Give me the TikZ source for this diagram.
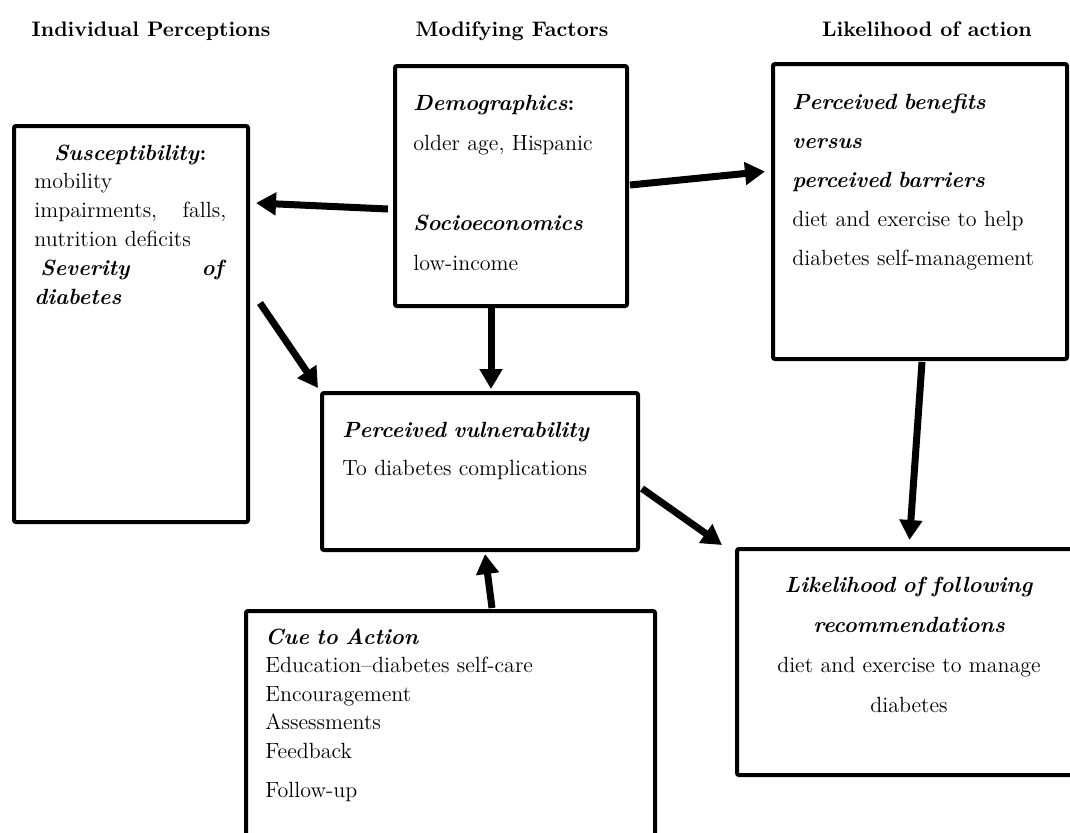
\documentclass[tikz,border=0pt]{standalone}
\usetikzlibrary{arrows.meta}
\newcommand{\kw}[1]{\textbf{\textit{#1}}}
\begin{document}
\begin{tikzpicture}
  [x=0.5pt,y=-0.5pt,
   box/.style={draw,line width=2pt,rounded corners=1pt,inner sep=0pt,anchor=north west},
   txt/.style={inner sep=0pt,anchor=base west,align=left},
   head/.style={inner sep=0pt,anchor=base,font=\fontsize{10.5}{12}\selectfont\bfseries},
   arr/.style={line width=3.5pt,-{Triangle[width=11pt,length=10pt]}}]
  \useasboundingbox (0,0) rectangle (1070,832);
  \clip (0,0) rectangle (1070,832);

  % column titles
  \node[head] (h1) at (151,36) {Individual Perceptions};
  \node[head] (h2) at (512,36) {Modifying Factors};
  \node[head] (h3) at (927,36) {Likelihood of action};

  % boxes
  \node[box,minimum width=117pt,minimum height=198pt]   (susc)    at (12,124)  {};
  \node[box,minimum width=116pt,minimum height=120pt]   (demo)    at (393,64)  {};
  \node[box,minimum width=147pt,minimum height=147.5pt] (benefit) at (771,62)  {};
  \node[box,minimum width=158pt,minimum height=78.5pt]  (vuln)    at (320,391) {};
  \node[box,minimum width=204.5pt,minimum height=125pt] (cue)     at (244,609) {};
  \node[box,minimum width=172.5pt,minimum height=113pt] (likely)  at (735,547) {};

  % box texts
  \node[txt,text width=96pt,font=\fontsize{11}{14.4}\selectfont] (tsusc) at (34,160)
    {\makebox[\linewidth]{\kw{Susceptibility}\textbf{:}}\\
     mobility\\
     impairments,\hfill falls,\\
     nutrition deficits\\
     \hspace*{3pt}\kw{Severity}\hfill\kw{of}\\
     \kw{diabetes}};
  \node[txt,text width=105pt,font=\fontsize{11}{20}\selectfont] (tdemo) at (413,110)
    {\kw{Demographics}\textbf{:}\\
     older age, Hispanic\\[20pt]
     \kw{Socioeconomics}\\
     low-income};
  \node[txt,text width=135pt,font=\fontsize{11}{19.5}\selectfont] (tbenefit) at (792,109)
    {\kw{Perceived benefits}\\
     \kw{versus}\\
     \kw{perceived barriers}\\
     diet and exercise to help\\
     diabetes self-management};
  \node[txt,text width=140pt,font=\fontsize{11}{19}\selectfont] (tvuln) at (342,437)
    {\kw{Perceived vulnerability}\\
     To diabetes complications};
  \node[txt,text width=185pt,font=\fontsize{11}{14.25}\selectfont] (tcue) at (265,644)
    {\kw{Cue to Action}\\
     Education--diabetes self-care\\
     Encouragement\\
     Assessments\\
     Feedback\\[5.5pt]
     Follow-up};
  \node[txt,anchor=base,align=center,text width=165pt,font=\fontsize{11}{20}\selectfont] (tlikely) at (909,592)
    {\kw{Likelihood of following}\\
     \kw{recommendations}\\
     diet and exercise to manage\\
     diabetes};

  % arrows
  \draw[arr] ([shift={(-5,23)}]demo.west)   -- ([shift={(6,-121)}]susc.east);
  \draw[arr] ([shift={(1,-1)}]demo.east)    -- ([shift={(-6,-40)}]benefit.west);
  \draw[arr] ([shift={(-20,0)}]demo.south)  -- ([shift={(11,-2)}]vuln.north);
  \draw[arr] ([shift={(10,-21)}]susc.east)  -- ([shift={(-2,-3)}]vuln.north west);
  \draw[arr] ([shift={(2,1)}]benefit.south) -- ([shift={(0,-7)}]likely.north);
  \draw[arr] ([shift={(2,17)}]vuln.east)    -- ([shift={(-13,-2)}]likely.north west);
  \draw[arr] ([shift={(41.5,-1)}]cue.north) -- ([shift={(5,2)}]vuln.south);

\end{tikzpicture}
\end{document}
